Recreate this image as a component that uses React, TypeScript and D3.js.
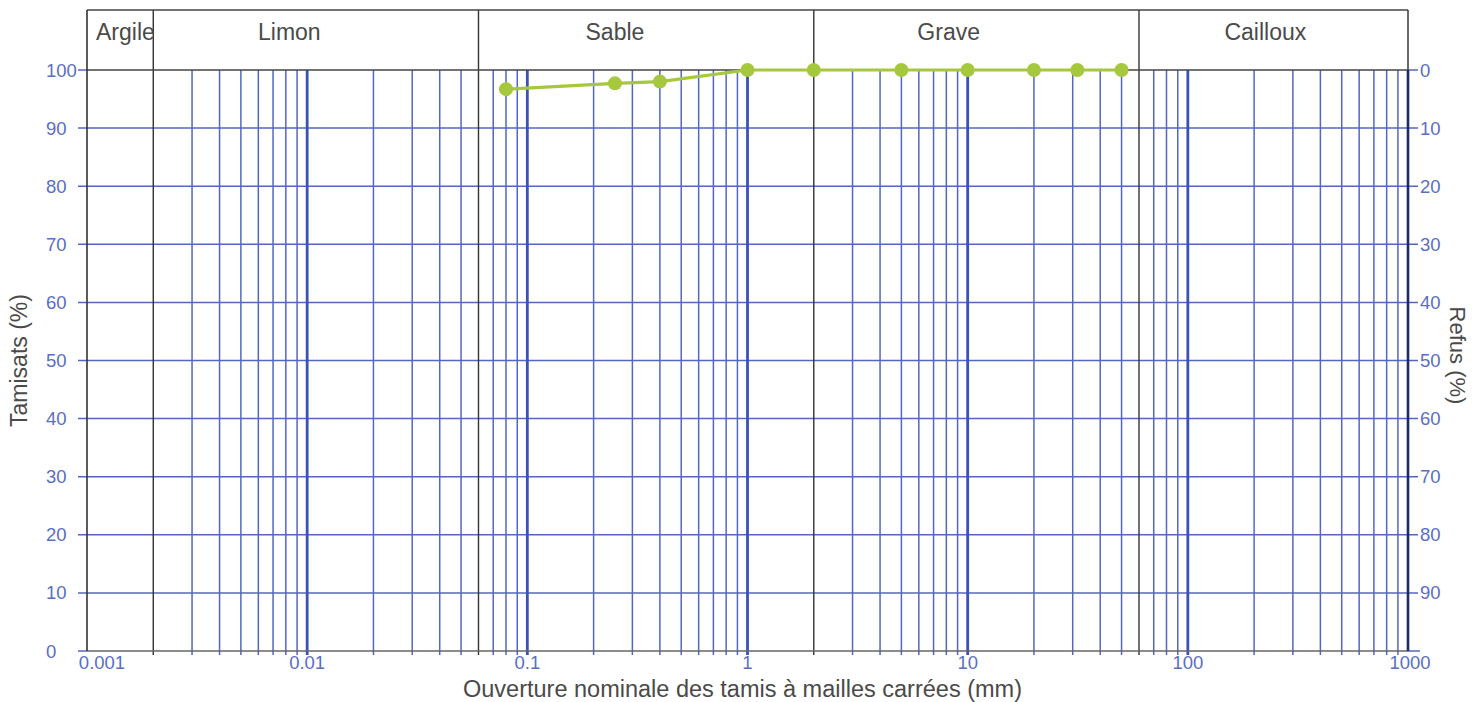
import React from "react";
import * as d3 from "d3";

const W = 1483;
const H = 702;

// Axis ranges
const xDomain: [number, number] = [0.001, 1000];
const yDomain: [number, number] = [0, 100];

// Tick labels
const xTickValues = [0.001, 0.01, 0.1, 1, 10, 100, 1000];
const xTickLabels = ["0.001", "0.01", "0.1", "1", "10", "100", "1000"];
const yTickValues = [0, 10, 20, 30, 40, 50, 60, 70, 80, 90, 100];
const refusTickValues = [0, 10, 20, 30, 40, 50, 60, 70, 80, 90];

// Soil class zones (mm)
const zoneNames = ["Argile", "Limon", "Sable", "Grave", "Cailloux"];
const zoneBounds = [0.001, 0.002, 0.06, 2, 60, 1000];
const zoneLabelAt = [0.00135, 0.0083, 0.25, 8.2, 225];

// Grading curve data
const sieveSizes = [0.08, 0.25, 0.4, 1, 2, 5, 10, 20, 31.5, 50];
const passingPct = [96.7, 97.7, 98.0, 100, 100, 100, 100, 100, 100, 100];

const BLUE = "#5467bf";
const TEXT = "#4a4a4a";
const LABEL_BLUE = "#5a6ec4";
const GREEN = "#a6c83c";
const FONT = "'Liberation Sans', Arial, sans-serif";

export default function App() {
  const left = 87;
  const right = 1408;
  const top = 70;
  const bottom = 651;
  const headerTop = 10;

  const x = d3.scaleLog().domain(xDomain).range([left, right]);
  const y = d3.scaleLinear().domain(yDomain).range([bottom, top]);

  // minor grid: k * 10^n
  const minor: number[] = [];
  const decades: number[] = [];
  for (let e = -3; e < 3; e++) {
    const base = Math.pow(10, e);
    if (e > -3) decades.push(base);
    for (let k = 2; k <= 9; k++) minor.push(+(k * base).toPrecision(3));
  }
  const dividers = zoneBounds.slice(1, -1);
  const minorLines = minor.filter(
    (v) => !dividers.some((d) => Math.abs(d - v) / v < 1e-6) && v > zoneBounds[1]
  );

  const line = d3
    .line<number>()
    .x((_, i) => x(sieveSizes[i]))
    .y((d) => y(d));

  return (
    <svg
      width={W}
      height={H}
      style={{ position: "absolute", left: 0, top: 0, background: "#fff" }}
      fontFamily={FONT}
    >
      <rect x={0} y={0} width={W} height={H} fill="#fff" />

      {/* horizontal grid */}
      {yTickValues.slice(1, -1).map((v) => (
        <line key={"h" + v} x1={left - 9} x2={right + 10} y1={y(v)} y2={y(v)} stroke={BLUE} strokeWidth={1.5} />
      ))}
      <line x1={left - 9} x2={left} y1={y(100)} y2={y(100)} stroke={BLUE} strokeWidth={1.5} />
      <line x1={right} x2={right + 10} y1={y(100)} y2={y(100)} stroke={BLUE} strokeWidth={1.5} />
      <line x1={left - 9} x2={left} y1={y(0)} y2={y(0)} stroke={BLUE} strokeWidth={1.5} />
      <line x1={right} x2={right + 12} y1={y(0)} y2={y(0)} stroke={BLUE} strokeWidth={1.5} />

      {/* minor vertical grid */}
      {minorLines.map((v) => (
        <line key={"m" + v} x1={x(v)} x2={x(v)} y1={top} y2={bottom + 4} stroke={BLUE} strokeWidth={1.5} />
      ))}
      {/* decade vertical grid */}
      {decades.map((v) => (
        <line key={"d" + v} x1={x(v)} x2={x(v)} y1={top} y2={bottom + 4} stroke="#3a52b8" strokeWidth={2.8} />
      ))}

      {/* zone dividers & header */}
      {dividers.map((v) => (
        <line key={"z" + v} x1={x(v)} x2={x(v)} y1={headerTop} y2={bottom + 4} stroke="#333" strokeWidth={1.4} />
      ))}
      <line x1={left} x2={right} y1={headerTop} y2={headerTop} stroke="#444" strokeWidth={1.6} />
      <line x1={left} x2={right} y1={top} y2={top} stroke="#444" strokeWidth={1.6} />
      <line x1={left} x2={right} y1={bottom} y2={bottom} stroke="#666" strokeWidth={1.6} />
      <line x1={left} x2={left} y1={headerTop} y2={bottom} stroke="#333" strokeWidth={1.6} />
      <line x1={right} x2={right} y1={headerTop} y2={top} stroke="#444" strokeWidth={1.6} />
      <line x1={right} x2={right} y1={top} y2={bottom} stroke="#1a2a6e" strokeWidth={2.6} />

      {zoneNames.map((n, i) => (
        <text
          key={n}
          x={i === 0 ? x(zoneBounds[0]) + 9 : x(zoneLabelAt[i])}
          y={40}
          textAnchor={i === 0 ? "start" : "middle"}
          fontSize={23}
          fill={TEXT}
        >
          {n}
        </text>
      ))}

      {/* left y labels */}
      {yTickValues.map((v) => (
        <text key={"yl" + v} x={46} y={y(v) + 6.5} textAnchor="start" fontSize={18.5} fill={LABEL_BLUE}>
          {v}
        </text>
      ))}
      {/* right refus labels */}
      {refusTickValues.map((v) => (
        <text key={"yr" + v} x={right + 12} y={y(100 - v) + 6.5} textAnchor="start" fontSize={18.5} fill={LABEL_BLUE}>
          {v}
        </text>
      ))}
      {/* x labels */}
      {xTickValues.map((v, i) => (
        <text key={"xl" + v} x={x(v) + (i === 0 ? 15 : i === xTickValues.length - 1 ? 2 : 0)} y={bottom + 18} textAnchor="middle" fontSize={18.5} fill={LABEL_BLUE}>
          {xTickLabels[i]}
        </text>
      ))}

      {/* axis titles */}
      <text x={(left + right) / 2 - 5} y={697} textAnchor="middle" fontSize={23.5} fill={TEXT}>
        Ouverture nominale des tamis à mailles carrées (mm)
      </text>
      <text transform={`translate(27,${(top + bottom) / 2}) rotate(-90)`} textAnchor="middle" fontSize={23} fill={TEXT}>
        Tamisats (%)
      </text>
      <text transform={`translate(1450,${(top + bottom) / 2 - 5}) rotate(90)`} textAnchor="middle" fontSize={22} fill={TEXT}>
        Refus (%)
      </text>

      {/* grading curve */}
      <path d={line(passingPct) || ""} fill="none" stroke={GREEN} strokeWidth={3.2} />
      {passingPct.map((p, i) => (
        <circle key={"c" + i} cx={x(sieveSizes[i])} cy={y(p)} r={7} fill={GREEN} />
      ))}
    </svg>
  );
}
